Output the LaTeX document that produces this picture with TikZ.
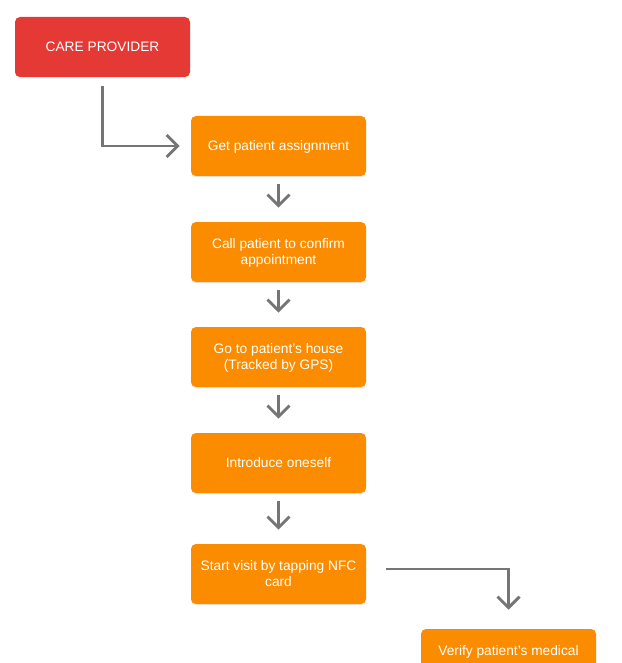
\documentclass[tikz,border=0pt]{standalone}
\usepackage{fontspec}
\setmainfont{Liberation Sans}
\usepackage{tikz}
\usetikzlibrary{arrows.meta,shadows}

\definecolor{provRed}{RGB}{229,57,53}
\definecolor{stepOrange}{RGB}{251,140,0}
\definecolor{lineGray}{RGB}{117,117,117}

\tikzset{
  flowbox/.style={rounded corners=3.75pt, minimum width=131.25pt, minimum height=45pt,
    text=white, align=center, inner sep=0.75pt, text depth=0pt,
    font=\fontsize{10.3}{12}\selectfont,
    drop shadow={opacity=0.18, shadow xshift=0pt, shadow yshift=-0.9pt}},
  redbox/.style={flowbox, fill=provRed},
  orangebox/.style={flowbox, fill=stepOrange},
  flowline/.style={draw=lineGray, line width=2.2pt,
    -{Straight Barb[length=8.25pt, width=16.5pt, line width=2.2pt]}},
}

\begin{document}
\begin{tikzpicture}[x=0.75pt,y=0.75pt,yscale=-1,xscale=1]
\useasboundingbox (0,0) rectangle (621,663);

% Boxes
\node [redbox] (provider) at (102.5,47) {CARE PROVIDER};
\node [orangebox] (assign) at (278.5,146) {Get patient assignment};
\node [orangebox] (call) at (278.5,252) {Call patient to confirm\\appointment};
\node [orangebox] (house) at (278.5,357) {Go to patient’s house\\(Tracked by GPS)};
\node [orangebox] (intro) at (278.5,463) {Introduce oneself};
\node [orangebox] (start) at (278.5,574) {Start visit by tapping NFC\\card};
\node [orangebox] (verify) at (508.5,659) {Verify patient’s medical\\\mbox{}};

% Connectors
\draw [flowline, shorten <=6.75pt, shorten >=8.25pt] (provider.south) |- (assign.west);
\foreach \a/\b in {assign/call, call/house, house/intro, intro/start}
  \draw [flowline, shorten <=6pt, shorten >=10.5pt] (\a.south) -- (\b.north);
\draw [flowline, shorten <=15pt, shorten >=14.25pt] ([yshift=-3.75pt]start.east) -| (verify.north);

\end{tikzpicture}
\end{document}
